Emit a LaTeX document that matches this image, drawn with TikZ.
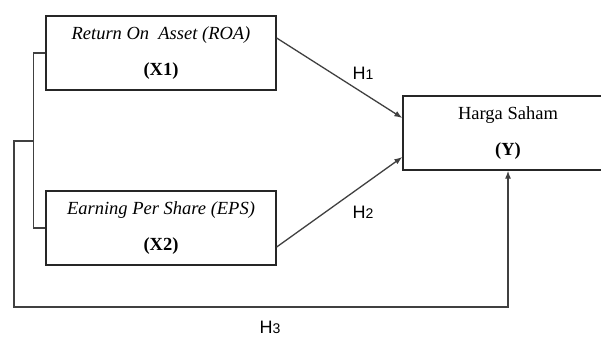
\documentclass[tikz,border=0pt]{standalone}
\usepackage{fontspec}
\setmainfont{Liberation Serif}
\newfontfamily\hfont{Liberation Sans}
\usepackage{tikz}
\usetikzlibrary{arrows.meta}

\begin{document}
\begin{tikzpicture}[x=1pt,y=-1pt,>={Latex[length=8pt,width=6pt]}]

\tikzstyle{varbox}=[rectangle,draw=black!85,line width=1.3pt,minimum width=230pt,minimum height=74pt,align=center,inner sep=0pt,font=\fontsize{18.5}{22}\selectfont]
\tikzstyle{ybox}=[varbox,minimum width=210pt]
\tikzstyle{link}=[draw=black!75,line width=1.3pt]
\tikzstyle{hlabel}=[font=\hfont\fontsize{18}{22}\selectfont,inner sep=0pt]

\useasboundingbox (0,0) rectangle (601,338);
\clip (0,0) rectangle (601,338);

\node[varbox] (roa) at (161,53) {\textit{Return On\ \ Asset (ROA)}\\[14pt]\textbf{(X1)}};
\node[varbox] (eps) at (161,228) {\textit{Earning Per Share (EPS)}\\[14pt]\textbf{(X2)}};
\node[ybox] (saham) at (508,133) {Harga Saham\\[14pt]\textbf{(Y)}};
\coordinate (join) at (34,141);

\draw[link] (roa.west) -- ++(-12,0) |- (eps.west);
\draw[link,->] ([yshift=15pt]roa.east) -- ([yshift=15pt]saham.west);
\draw[link,->] ([yshift=-19pt]eps.east) -- ([yshift=-24pt]saham.west);
\draw[link,->] (join) -- ++(-20,0) -- ++(0,166) -| (saham.south);

\node[hlabel] (h1) at (363,73) {H{\fontsize{14}{16}\selectfont 1}};
\node[hlabel] (h2) at (363,212) {H{\fontsize{14}{16}\selectfont 2}};
\node[hlabel] (h3) at (270,327) {H{\fontsize{14}{16}\selectfont 3}};
\end{tikzpicture}
\end{document}
